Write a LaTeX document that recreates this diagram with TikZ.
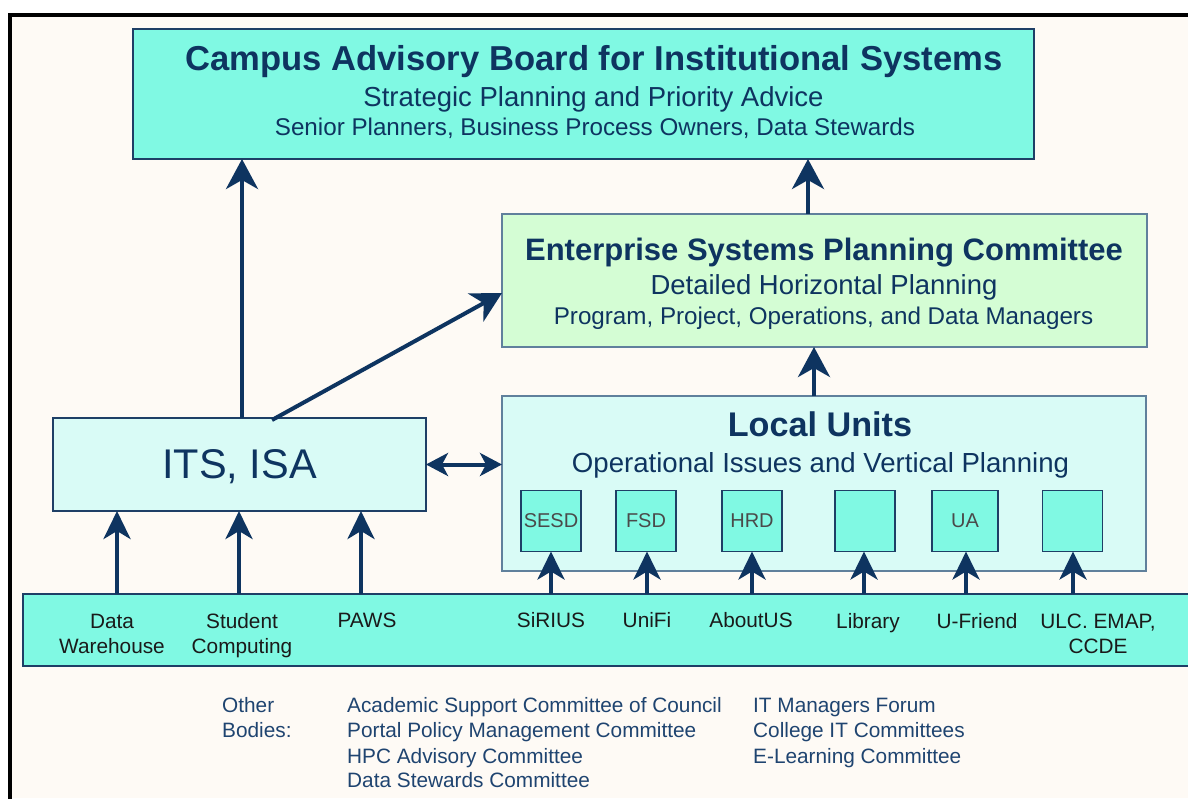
\documentclass[tikz,border=0pt]{standalone}
\usepackage{fontspec}
\setmainfont{Liberation Sans}
\usetikzlibrary{arrows.meta}

\definecolor{aqua}{HTML}{80F9E3}
\definecolor{mint}{HTML}{D4FDD4}
\definecolor{ice}{HTML}{D9FBF6}
\definecolor{cream}{HTML}{FEFAF5}
\definecolor{navy}{HTML}{0E3460}
\definecolor{edge}{HTML}{1E3F66}
\definecolor{softedge}{HTML}{60809C}
\definecolor{labelink}{HTML}{1A1A1A}
\definecolor{boxink}{HTML}{4A4A4A}
\definecolor{noteink}{HTML}{1F4470}

\newcommand{\fs}[1]{\fontsize{#1}{#1}\selectfont}

\tikzset{
  panel/.style={draw=edge, line width=1.2pt, inner sep=0pt, outer sep=0pt},
  softpanel/.style={draw=softedge, line width=1.5pt, inner sep=0pt, outer sep=0pt},
  unitbox/.style={panel, fill=aqua, minimum width=60pt, minimum height=61pt,
    font=\fs{20}, text=boxink},
  txt/.style={inner sep=0pt, anchor=base},
  head/.style={txt, text=navy},
  stripl/.style={txt, text=labelink, font=\fs{20.8}},
  note/.style={txt, anchor=base west, text=noteink, font=\fs{20.8}},
  flow/.style={draw=navy, line width=4pt,
    -{Stealth[length=30pt, width=32pt, inset=9pt]}},
  feed/.style={draw=navy, line width=4pt,
    -{Stealth[length=28pt, width=27pt, inset=8pt]}},
  both/.style={draw=navy, line width=4pt,
    {Stealth[length=22pt, width=23pt, inset=6pt]}-{Stealth[length=22pt, width=23pt, inset=6pt]}},
}

\begin{document}
\begin{tikzpicture}[x=1pt, y=-1pt]
\useasboundingbox (0,0) rectangle (1188,798);
\fill[white] (0,0) rectangle (1188,798);
\fill[cream] (10,15) rectangle (1188,798);
\draw[line width=4pt] (10,800) -- (10,15) -- (1190,15);

% --- main boxes ---
\node[panel, fill=aqua, minimum width=901pt, minimum height=130pt] (cab) at (583.5,94) {};
\node[softpanel, fill=mint, minimum width=645pt, minimum height=133pt] (espc) at (824.5,280.5) {};
\node[softpanel, fill=ice, minimum width=644pt, minimum height=175pt] (local) at (824,483.5) {};
\node[panel, fill=ice, minimum width=373pt, minimum height=93pt] (its) at (239.5,464.5) {};
\node[panel, fill=aqua, minimum width=1175pt, minimum height=72pt] (strip) at (610.5,630) {};

% --- box texts ---
\node[head, font=\fs{34.6}\bfseries] (cabA) at (594,70) {Campus Advisory Board for Institutional Systems};
\node[head, font=\fs{27.5}] (cabB) at (593.5,106) {Strategic Planning and Priority Advice};
\node[head, font=\fs{24.2}] (cabC) at (595,135) {Senior Planners, Business Process Owners, Data Stewards};

\node[head, font=\fs{31}\bfseries] (espcA) at (824,260) {Enterprise Systems Planning Committee};
\node[head, font=\fs{27.5}] (espcB) at (824,294.5) {Detailed Horizontal Planning};
\node[head, font=\fs{24.2}] (espcC) at (823.5,324) {Program, Project, Operations, and Data Managers};

\node[head, font=\fs{34.2}\bfseries] (localA) at (820,436) {Local Units};
\node[head, font=\fs{27.6}] (localB) at (820.5,472) {Operational Issues and Vertical Planning};

\node[head, font=\fs{41.5}] (itsA) at (239.5,478.5) {ITS, ISA};

% --- unit boxes inside Local Units ---
\node[unitbox] (sesd) at (551,521) {SESD};
\node[unitbox] (fsd) at (646,521) {FSD};
\node[unitbox] (hrd) at (752,521) {HRD};
\node[unitbox] (lib) at (865,521) {};
\node[unitbox, minimum width=66pt] (ua) at (965,521) {UA};
\node[unitbox] (ulc) at (1072.5,521) {};

% --- labels in the system strip ---
\node[stripl] (dw1) at (112,628) {Data};
\node[stripl] (dw2) at (112,653) {Warehouse};
\node[stripl] (sc1) at (242,628) {Student};
\node[stripl] (sc2) at (242,653) {Computing};
\node[stripl] (paws) at (367,627) {PAWS};
\node[stripl] (sirius) at (551,627) {SiRIUS};
\node[stripl] (unifi) at (647,627) {UniFi};
\node[stripl] (about) at (751,627) {AboutUS};
\node[stripl] (library) at (868,628) {Library};
\node[stripl] (ufriend) at (977,628) {U-Friend};
\node[stripl] (ulc1) at (1098,628) {ULC. EMAP,};
\node[stripl] (ulc2) at (1098,653) {CCDE};

% --- arrow feet on the strip's top edge ---
\coordinate (fDW) at (117,594);
\coordinate (fSC) at (239,594);
\coordinate (fPW) at (361,594);
\coordinate (fSI) at (551,594);
\coordinate (fUN) at (647,594);
\coordinate (fAB) at (752,594);
\coordinate (fLI) at (864,594);
\coordinate (fUF) at (966,594);
\coordinate (fUL) at (1073,594);

% --- connectors ---
\draw[feed] (fDW) -- (fDW |- its.south);
\draw[feed] (fSC) -- (fSC |- its.south);
\draw[feed] (fPW) -- (fPW |- its.south);
\draw[feed] (fSI) -- (fSI |- sesd.south);
\draw[feed] (fUN) -- (fUN |- fsd.south);
\draw[feed] (fAB) -- (fAB |- hrd.south);
\draw[feed] (fLI) -- (fLI |- lib.south);
\draw[feed] (fUF) -- (fUF |- ua.south);
\draw[feed] (fUL) -- (fUL |- ulc.south);

\draw[flow] (its.north -| 242,0) -- (cab.south -| 242,0);
\draw[flow] ([xshift=32.5pt, yshift=-2pt]its.north) -- ([yshift=-12.5pt]espc.west);
\draw[both] (its.east) -- (local.west |- its.east);
\draw[flow] (local.north -| 814,0) -- (espc.south -| 814,0);
\draw[flow] (espc.north -| 808,0) -- (cab.south -| 808,0);

% --- other bodies ---
\node[note] (ob1) at (222,712) {Other};
\node[note] (ob2) at (222,737) {Bodies:};
\node[note] (c1a) at (347,712) {Academic Support Committee of Council};
\node[note] (c1b) at (347,737) {Portal Policy Management Committee};
\node[note] (c1c) at (347,763) {HPC Advisory Committee};
\node[note] (c1d) at (347,787) {Data Stewards Committee};
\node[note] (c2a) at (753,712) {IT Managers Forum};
\node[note] (c2b) at (753,737) {College IT Committees};
\node[note] (c2c) at (753,763) {E-Learning Committee};
\end{tikzpicture}
\end{document}
